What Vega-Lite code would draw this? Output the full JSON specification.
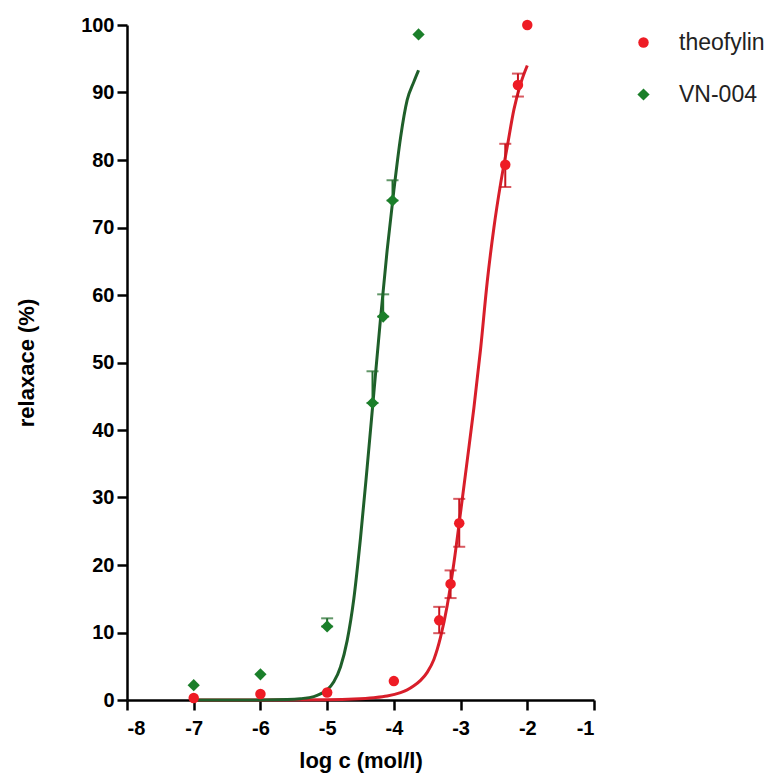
{
  "$schema": "https://vega.github.io/schema/vega-lite/v6.json",
  "width": 467,
  "height": 675,
  "autosize": {"type": "none"},
  "padding": {"left": 127, "top": 25, "right": 182, "bottom": 74},
  "background": "white",
  "config": {
    "view": {"stroke": null},
    "font": "Liberation Sans",
    "axis": {
      "grid": false,
      "domainColor": "black",
      "domainWidth": 2.5,
      "tickColor": "black",
      "tickWidth": 2.5,
      "tickSize": 10,
      "labelFont": "Liberation Sans",
      "labelFontSize": 20,
      "labelFontWeight": "bold",
      "labelColor": "black",
      "titleFont": "Liberation Sans",
      "titleFontSize": 22,
      "titleFontWeight": "bold",
      "titleColor": "black"
    }
  },
  "datasets": {
    "points": [
      {"series": "theofylin", "x": -7, "y": 0.3, "lo": null, "hi": null},
      {"series": "theofylin", "x": -6, "y": 0.9, "lo": null, "hi": null},
      {"series": "theofylin", "x": -5, "y": 1.1, "lo": null, "hi": null},
      {"series": "theofylin", "x": -4, "y": 2.8, "lo": null, "hi": null},
      {"series": "theofylin", "x": -3.32, "y": 11.8, "lo": 9.9, "hi": 13.8},
      {"series": "theofylin", "x": -3.15, "y": 17.2, "lo": 15.1, "hi": 19.2},
      {"series": "theofylin", "x": -3.02, "y": 26.2, "lo": 22.7, "hi": 29.8},
      {"series": "theofylin", "x": -2.33, "y": 79.3, "lo": 76.0, "hi": 82.4},
      {"series": "theofylin", "x": -2.14, "y": 91.1, "lo": 89.4, "hi": 92.8},
      {"series": "theofylin", "x": -2.0, "y": 100, "lo": null, "hi": null},
      {"series": "VN-004", "x": -7, "y": 2.2, "lo": null, "hi": null},
      {"series": "VN-004", "x": -6, "y": 3.8, "lo": null, "hi": null},
      {"series": "VN-004", "x": -5, "y": 10.9, "lo": 10.9, "hi": 12.1},
      {"series": "VN-004", "x": -4.32, "y": 44.0, "lo": 44.0, "hi": 48.7},
      {"series": "VN-004", "x": -4.16, "y": 56.8, "lo": 56.8, "hi": 60.1},
      {"series": "VN-004", "x": -4.02, "y": 74.0, "lo": 74.0, "hi": 77.0},
      {"series": "VN-004", "x": -3.63, "y": 98.6, "lo": null, "hi": null}
    ],
    "curves": [
      {"series": "theofylin", "x": -7, "y": 0},
      {"series": "theofylin", "x": -6, "y": 0},
      {"series": "theofylin", "x": -5, "y": 0.05},
      {"series": "theofylin", "x": -4.6, "y": 0.15},
      {"series": "theofylin", "x": -4.3, "y": 0.35},
      {"series": "theofylin", "x": -4.1, "y": 0.6},
      {"series": "theofylin", "x": -3.9, "y": 1.1},
      {"series": "theofylin", "x": -3.8, "y": 1.5},
      {"series": "theofylin", "x": -3.7, "y": 2.1},
      {"series": "theofylin", "x": -3.6, "y": 2.9},
      {"series": "theofylin", "x": -3.5, "y": 4.1},
      {"series": "theofylin", "x": -3.4, "y": 6.0},
      {"series": "theofylin", "x": -3.3, "y": 9.3},
      {"series": "theofylin", "x": -3.2, "y": 14},
      {"series": "theofylin", "x": -3.1, "y": 20.3},
      {"series": "theofylin", "x": -3.0, "y": 27.8},
      {"series": "theofylin", "x": -2.9, "y": 35.5},
      {"series": "theofylin", "x": -2.8, "y": 43.3},
      {"series": "theofylin", "x": -2.7, "y": 52},
      {"series": "theofylin", "x": -2.6, "y": 62},
      {"series": "theofylin", "x": -2.5, "y": 70},
      {"series": "theofylin", "x": -2.4, "y": 76.5},
      {"series": "theofylin", "x": -2.3, "y": 82},
      {"series": "theofylin", "x": -2.2, "y": 87.5},
      {"series": "theofylin", "x": -2.1, "y": 91.3},
      {"series": "theofylin", "x": -2.0, "y": 94},
      {"series": "VN-004", "x": -7, "y": 0},
      {"series": "VN-004", "x": -6, "y": 0},
      {"series": "VN-004", "x": -5.6, "y": 0.07},
      {"series": "VN-004", "x": -5.4, "y": 0.2},
      {"series": "VN-004", "x": -5.2, "y": 0.5},
      {"series": "VN-004", "x": -5.1, "y": 0.9},
      {"series": "VN-004", "x": -5.0, "y": 1.5},
      {"series": "VN-004", "x": -4.9, "y": 2.7},
      {"series": "VN-004", "x": -4.8, "y": 4.9},
      {"series": "VN-004", "x": -4.7, "y": 8.8},
      {"series": "VN-004", "x": -4.6, "y": 15},
      {"series": "VN-004", "x": -4.5, "y": 24},
      {"series": "VN-004", "x": -4.4, "y": 34.5},
      {"series": "VN-004", "x": -4.3, "y": 45.5},
      {"series": "VN-004", "x": -4.2, "y": 56.5},
      {"series": "VN-004", "x": -4.1, "y": 66.7},
      {"series": "VN-004", "x": -4.0, "y": 75.5},
      {"series": "VN-004", "x": -3.9, "y": 83.3},
      {"series": "VN-004", "x": -3.8, "y": 88.9},
      {"series": "VN-004", "x": -3.7, "y": 91.6},
      {"series": "VN-004", "x": -3.63, "y": 93.3}
    ]
  },
  "layer": [
    {
      "data": {"name": "curves"},
      "transform": [{"filter": "datum.series === 'theofylin'"}],
      "mark": {"type": "line", "color": "#d81e2a", "strokeWidth": 3, "interpolate": "monotone"},
      "encoding": {
        "x": {
          "field": "x", "type": "quantitative", "title": "log c (mol/l)",
          "scale": {"domain": [-8, -1], "nice": false, "zero": false},
          "axis": {"values": [-8, -7, -6, -5, -4, -3, -2, -1], "labelExpr": "toString(datum.value)", "labelPadding": 8, "titlePadding": 12}
        },
        "y": {
          "field": "y", "type": "quantitative", "title": "relaxace (%)",
          "scale": {"domain": [0, 100], "nice": false},
          "axis": {"values": [0, 10, 20, 30, 40, 50, 60, 70, 80, 90, 100], "labelExpr": "toString(datum.value)", "labelPadding": 3, "titlePadding": 42}
        }
      }
    },
    {
      "data": {"name": "curves"},
      "transform": [{"filter": "datum.series === 'VN-004'"}],
      "mark": {"type": "line", "color": "#1f5f2a", "strokeWidth": 3, "interpolate": "monotone"},
      "encoding": {
        "x": {"field": "x", "type": "quantitative", "title": "log c (mol/l)"},
        "y": {"field": "y", "type": "quantitative", "title": "relaxace (%)"}
      }
    },
    {
      "data": {"name": "points"},
      "transform": [{"filter": "datum.series === 'theofylin' && datum.hi != null"}],
      "mark": {"type": "errorbar", "color": "#c8141e", "thickness": 2, "ticks": {"size": 12, "thickness": 2}},
      "encoding": {
        "x": {"field": "x", "type": "quantitative", "title": "log c (mol/l)"},
        "y": {"field": "lo", "type": "quantitative", "title": "relaxace (%)"},
        "y2": {"field": "hi"}
      }
    },
    {
      "data": {"name": "points"},
      "transform": [{"filter": "datum.series === 'VN-004' && datum.hi != null"}],
      "mark": {"type": "errorbar", "color": "#1f6b2a", "thickness": 2, "ticks": {"size": 12, "thickness": 2}},
      "encoding": {
        "x": {"field": "x", "type": "quantitative", "title": "log c (mol/l)"},
        "y": {"field": "lo", "type": "quantitative", "title": "relaxace (%)"},
        "y2": {"field": "hi"}
      }
    },
    {
      "data": {"name": "points"},
      "mark": {"type": "point", "filled": true, "opacity": 1},
      "encoding": {
        "x": {"field": "x", "type": "quantitative", "title": "log c (mol/l)"},
        "y": {"field": "y", "type": "quantitative", "title": "relaxace (%)"},
        "size": {
          "field": "series", "type": "nominal",
          "scale": {"domain": ["theofylin", "VN-004"], "range": [110, 150]},
          "legend": null
        },
        "color": {
          "field": "series", "type": "nominal",
          "scale": {"domain": ["theofylin", "VN-004"], "range": ["#ee1c25", "#1b7f2a"]},
          "legend": {
            "title": null, "orient": "none", "legendX": 505, "legendY": 6,
            "symbolSize": 80, "labelFontSize": 23, "labelFont": "Liberation Sans",
            "labelColor": "#222222", "labelOffset": 24, "rowPadding": 28, "padding": 0,
            "symbolStrokeWidth": 0
          }
        },
        "shape": {
          "field": "series", "type": "nominal",
          "scale": {"domain": ["theofylin", "VN-004"], "range": ["circle", "diamond"]}
        }
      }
    }
  ]
}
